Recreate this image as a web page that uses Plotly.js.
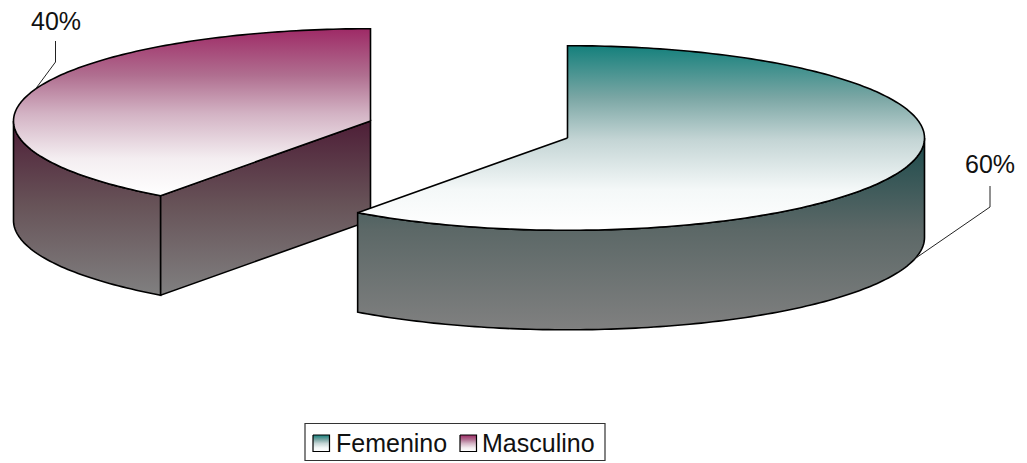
<!DOCTYPE html>
<html>
<head>
<meta charset="utf-8">
<script src="https://cdn.plot.ly/plotly-3.0.1.min.js"></script>
<style>html,body{margin:0;padding:0;background:#fff}#chart{width:1027px;height:463px}</style>
</head>
<body>
<div id="chart"></div>
<script>
// Share of respondents by sex
const categories = ['Femenino', 'Masculino'];
const shares = [60, 40];

// Pie projection, in chart pixels
const radiusX = 357, radiusY = 92.3, depth = 99.5;
const centers = [[567.5, 138], [370.5, 121]];

// Vertical shading of each slice
const topShades = [
  [[0, '#14807c'], [0.28, '#7aa6a4'], [0.51, '#c4d5d5'], [0.78, '#f4f8f8'], [1, '#ffffff']],
  [[0, '#9e2a66'], [0.28, '#b06f90'], [0.51, '#d3b3c4'], [0.78, '#f4eef1'], [1, '#ffffff']]
];
const wallShades = [
  [[0, '#1b4a4b'], [0.48, '#5c6867'], [1, '#808080']],
  [[0, '#4e1e37'], [0.48, '#675358'], [1, '#808080']]
];

// Clockwise from twelve o'clock, in degrees
function rim(c, deg, drop) {
  const a = deg * Math.PI / 180;
  return [c[0] + radiusX * Math.sin(a), c[1] - radiusY * Math.cos(a) + drop];
}
function arc(c, from, to, drop) {
  const pts = [], n = Math.max(2, Math.ceil(Math.abs(to - from)));
  for (let i = 0; i <= n; i++) pts.push(rim(c, from + (to - from) * i / n, drop));
  return pts;
}
function shape(name, pts, colorscale, start, stop) {
  return {
    type: 'scatter', mode: 'lines', name: name, hoverinfo: 'skip', showlegend: false,
    x: pts.map(p => p[0]), y: pts.map(p => p[1]),
    fill: 'toself',
    fillgradient: {type: 'vertical', colorscale: colorscale, start: start, stop: stop},
    line: {color: '#000', width: 1.6, simplify: false}
  };
}

const total = shares.reduce((a, b) => a + b, 0);
let angle = 0;
const sliceTraces = categories.map((name, i) => {
  const from = angle, to = angle + 360 * shares[i] / total;
  angle = to;
  const c = centers[i], traces = [];
  const frontFrom = Math.max(from, 90), frontTo = Math.min(to, 270);
  const outer = arc(c, frontFrom, frontTo, 0).concat(arc(c, frontTo, frontFrom, depth));
  outer.push(outer[0]);
  const wallTop = c[1], wallBottom = Math.max(...outer.map(p => p[1]));
  traces.push(shape(name, outer, wallShades[i], wallTop, wallBottom));
  // The cut face shows only on the slice that starts past the lowest point
  if (from > 180 && from < 270) {
    const r = rim(c, from, 0), rd = rim(c, from, depth);
    const cut = [r, c, [c[0], c[1] + depth], rd, r];
    traces.push(shape(name, cut, wallShades[i], wallTop, wallBottom));
  }
  const face = [c].concat(arc(c, from, to, 0));
  face.push(c);
  const ys = face.map(p => p[1]);
  traces.push(shape(name, face, topShades[i], Math.min(...ys), Math.max(...ys)));
  return traces;
});
// The right-hand slice overlaps the other one, so it is drawn last
const pieTraces = sliceTraces[1].concat(sliceTraces[0]);

// Key swatches
const swatchLeft = [313, 460], swatchSize = 16.5, swatchTop = 435;
const swatches = categories.map((name, i) => {
  const l = swatchLeft[i], r = l + swatchSize, t = swatchTop, b = t + swatchSize;
  const s = shape(name, [[l, t], [r, t], [r, b], [l, b], [l, t]], topShades[i], t, b);
  s.line.width = 1.2;
  return s;
});

const textFont = {family: '"Liberation Sans", Arial, sans-serif', color: '#111'};
const annotation = (text, x, y, size, xanchor) => ({
  text: text, x: x, y: y, xref: 'x', yref: 'y', xanchor: xanchor, yanchor: 'middle',
  showarrow: false, font: Object.assign({size: size}, textFont)
});

const layout = {
  width: 1027, height: 463,
  margin: {l: 0, r: 0, t: 0, b: 0},
  paper_bgcolor: '#fff', plot_bgcolor: '#fff',
  showlegend: false,
  xaxis: {range: [0, 1027], visible: false, fixedrange: true},
  yaxis: {range: [463, 0], visible: false, fixedrange: true},
  annotations: [
    annotation(shares[1] + '%', 55.5, 21, 25, 'center'),
    annotation(shares[0] + '%', 990, 164, 25, 'center'),
    annotation(categories[0], 334, 443, 25, 'left'),
    annotation(categories[1], 480, 443, 25, 'left')
  ],
  shapes: [
    {type: 'path', path: 'M55.5,41 L55.5,62 L34,91', line: {color: '#222', width: 1}},
    {type: 'path', path: 'M990,186 L990,207 L913,260', line: {color: '#222', width: 1}},
    {type: 'rect', x0: 305, x1: 605, y0: 423.5, y1: 460.5, line: {color: '#333', width: 1.2}}
  ]
};

Plotly.newPlot('chart', pieTraces.concat(swatches), layout, {displayModeBar: false, staticPlot: true});
</script>
</body>
</html>
